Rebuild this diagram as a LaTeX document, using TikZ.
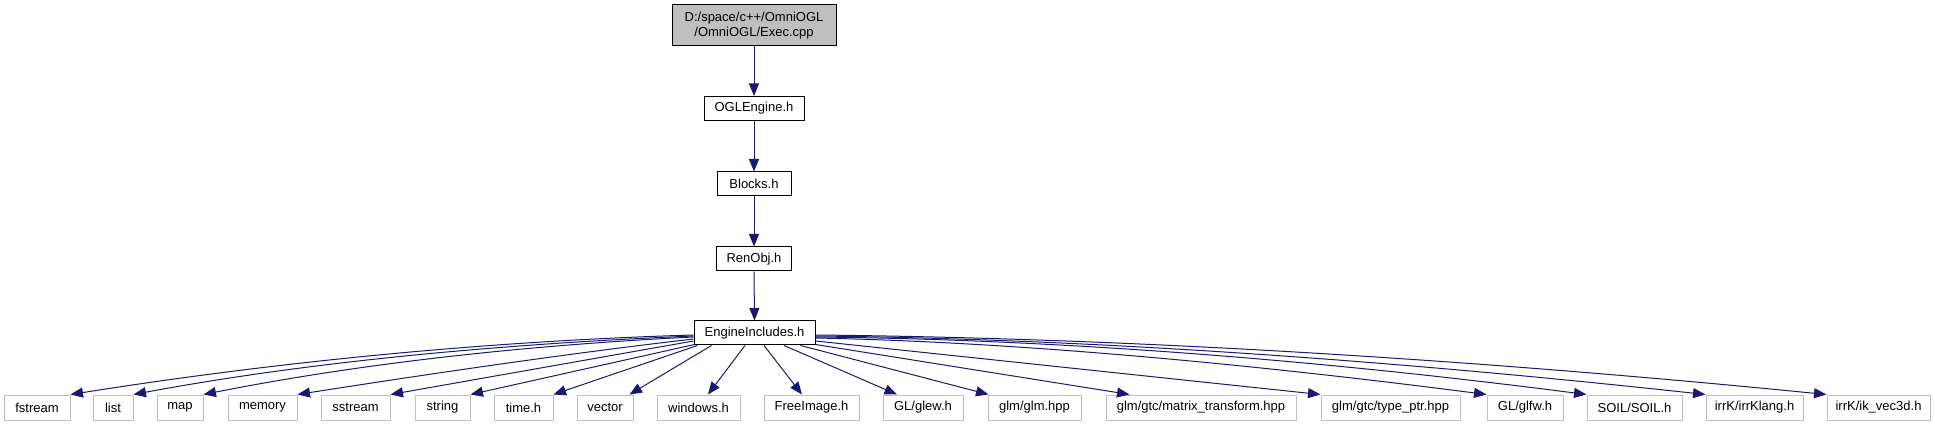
\documentclass[tikz,border=0pt]{standalone}
\usepackage{fontspec}
\setmainfont{Liberation Sans}
\usetikzlibrary{arrows.meta,calc}
\definecolor{edgeblue}{HTML}{191970}
\definecolor{extgray}{HTML}{BFBFBF}
\definecolor{rootgray}{HTML}{BFBFBF}
\newcommand\myqedge[3]{\draw[edge] (#1) .. controls ($(#1)!0.667!(#3)$) and ($(#2)!0.667!(#3)$) .. (#2);}
\begin{document}
\begin{tikzpicture}[x=1pt,y=-1pt,
  box/.style={draw=black, line width=1pt, fill=white, inner sep=0pt, minimum height=24pt, font=\fontsize{13}{15}\selectfont},
  ext/.style={draw=extgray, line width=1pt, fill=white, inner sep=0pt, minimum height=25pt, font=\fontsize{13}{15}\selectfont},
  edge/.style={draw=edgeblue, line width=1pt, -{Triangle[length=12.5pt,width=10pt]}}]
\useasboundingbox (0,0) rectangle (1935,427);
% main chain
\node[box, fill=rootgray, minimum width=164pt, minimum height=41pt, align=center] (exec) at (754,25.5) {D:/space/c++/OmniOGL\\/OmniOGL/Exec.cpp};
\node[box, minimum width=100pt] (ogl) at (754,108.5) {OGLEngine.h};
\node[box, minimum width=74pt] (blocks) at (754,184) {Blocks.h};
\node[box, minimum width=75pt] (renobj) at (754,259) {RenObj.h};
\node[box, minimum width=121pt] (ei) at (754.5,333) {EngineIncludes.h};
% external headers
\node[ext, minimum width=66pt] (fstream) at (37,407.5) {fstream};
\node[ext, minimum width=40pt] (list) at (113,407.5) {list};
\node[ext, minimum width=46pt] (map) at (180,407.5) {map};
\node[ext, minimum width=69pt] (memory) at (262.5,407.5) {memory};
\node[ext, minimum width=69pt] (sstream) at (355.5,407.5) {sstream};
\node[ext, minimum width=55pt] (string) at (442.5,407.5) {string};
\node[ext, minimum width=59pt] (time) at (523.5,407.5) {time.h};
\node[ext, minimum width=56pt] (vector) at (605,407.5) {vector};
\node[ext, minimum width=83pt] (windows) at (698.5,407.5) {windows.h};
\node[ext, minimum width=95pt] (freeimage) at (811.5,407.5) {FreeImage.h};
\node[ext, minimum width=80pt] (glew) at (923,407.5) {GL/glew.h};
\node[ext, minimum width=93pt] (glm) at (1034.5,407.5) {glm/glm.hpp};
\node[ext, minimum width=190pt] (matrix) at (1201,407.5) {glm/gtc/matrix\_transform.hpp};
\node[ext, minimum width=139pt] (typeptr) at (1390.5,407.5) {glm/gtc/type\_ptr.hpp};
\node[ext, minimum width=76pt] (glfw) at (1525,407.5) {GL/glfw.h};
\node[ext, minimum width=95pt] (soil) at (1634.5,407.5) {SOIL/SOIL.h};
\node[ext, minimum width=97pt] (irrklang) at (1754.5,407.5) {irrK/irrKlang.h};
\node[ext, minimum width=103pt] (ikvec) at (1878.5,407.5) {irrK/ik\_vec3d.h};
% chain edges
\draw[edge] (exec.south) -- (ogl.north);
\draw[edge] (ogl.south) -- (blocks.north);
\draw[edge] (blocks.south) -- (renobj.north);
\draw[edge] (renobj.south) -- (ei.north);
% start points on EngineIncludes.h
\coordinate (s1) at ($(ei.west)+(0,2)$);
\coordinate (s2) at ($(ei.west)+(0,3)$);
\coordinate (s3) at ($(ei.west)+(0,4)$);
\coordinate (s4) at ($(ei.west)+(0,6)$);
\coordinate (s5) at ($(ei.west)+(0,8)$);
\coordinate (s6) at ($(ei.south west)+(1,-1)$);
\coordinate (s7) at ($(ei.south west)+(4,0)$);
\coordinate (s8) at ($(ei.south west)+(18,0)$);
\coordinate (s9) at ($(ei.south)+(-9.5,0)$);
\coordinate (s10) at ($(ei.south)+(9.5,0)$);
\coordinate (s11) at ($(ei.south)+(29.5,0)$);
\coordinate (s12) at ($(ei.south east)+(-15,0)$);
\coordinate (s13) at ($(ei.south east)+(0,-1)$);
\coordinate (s14) at ($(ei.east)+(0,8)$);
\coordinate (s15) at ($(ei.east)+(0,5)$);
\coordinate (s16) at ($(ei.east)+(0,4)$);
\coordinate (s17) at ($(ei.east)+(0,3)$);
\coordinate (s18) at ($(ei.east)+(0,2)$);
% end points
\coordinate (t8) at ($(vector.north east)+(-4,0)$);
\coordinate (t9) at ($(windows.north)+(9.5,0)$);
\coordinate (t10) at ($(freeimage.north)+(-9.5,0)$);
\coordinate (t11) at ($(glew.north)+(-26,0)$);
\coordinate (t12) at ($(glm.north west)+(1,0)$);
\coordinate (t13) at ($(matrix.north west)+(24,0)$);
% fan edges
\myqedge{s1}{fstream.north east}{390,344}
\myqedge{s2}{list.north east}{377,349}
\myqedge{s3}{map.north east}{428,350}
\myqedge{s4}{memory.north east}{537,357}
\draw[edge] (s5) -- (sstream.north east);
\draw[edge] (s6) -- (string.north east);
\draw[edge] (s7) -- (time.north east);
\draw[edge] (s8) -- (t8);
\draw[edge] (s9) -- (t9);
\draw[edge] (s10) -- (t10);
\draw[edge] (s11) -- (t11);
\draw[edge] (s12) -- (t12);
\draw[edge] (s13) -- (t13);
\draw[edge] (s14) -- (typeptr.north west);
\myqedge{s15}{glfw.north west}{1091,343.5}
\myqedge{s16}{soil.north west}{1168,340.5}
\myqedge{s17}{irrklang.north west}{1205,340}
\myqedge{s18}{ikvec.north west}{1273,339.6}
\end{tikzpicture}
\end{document}
